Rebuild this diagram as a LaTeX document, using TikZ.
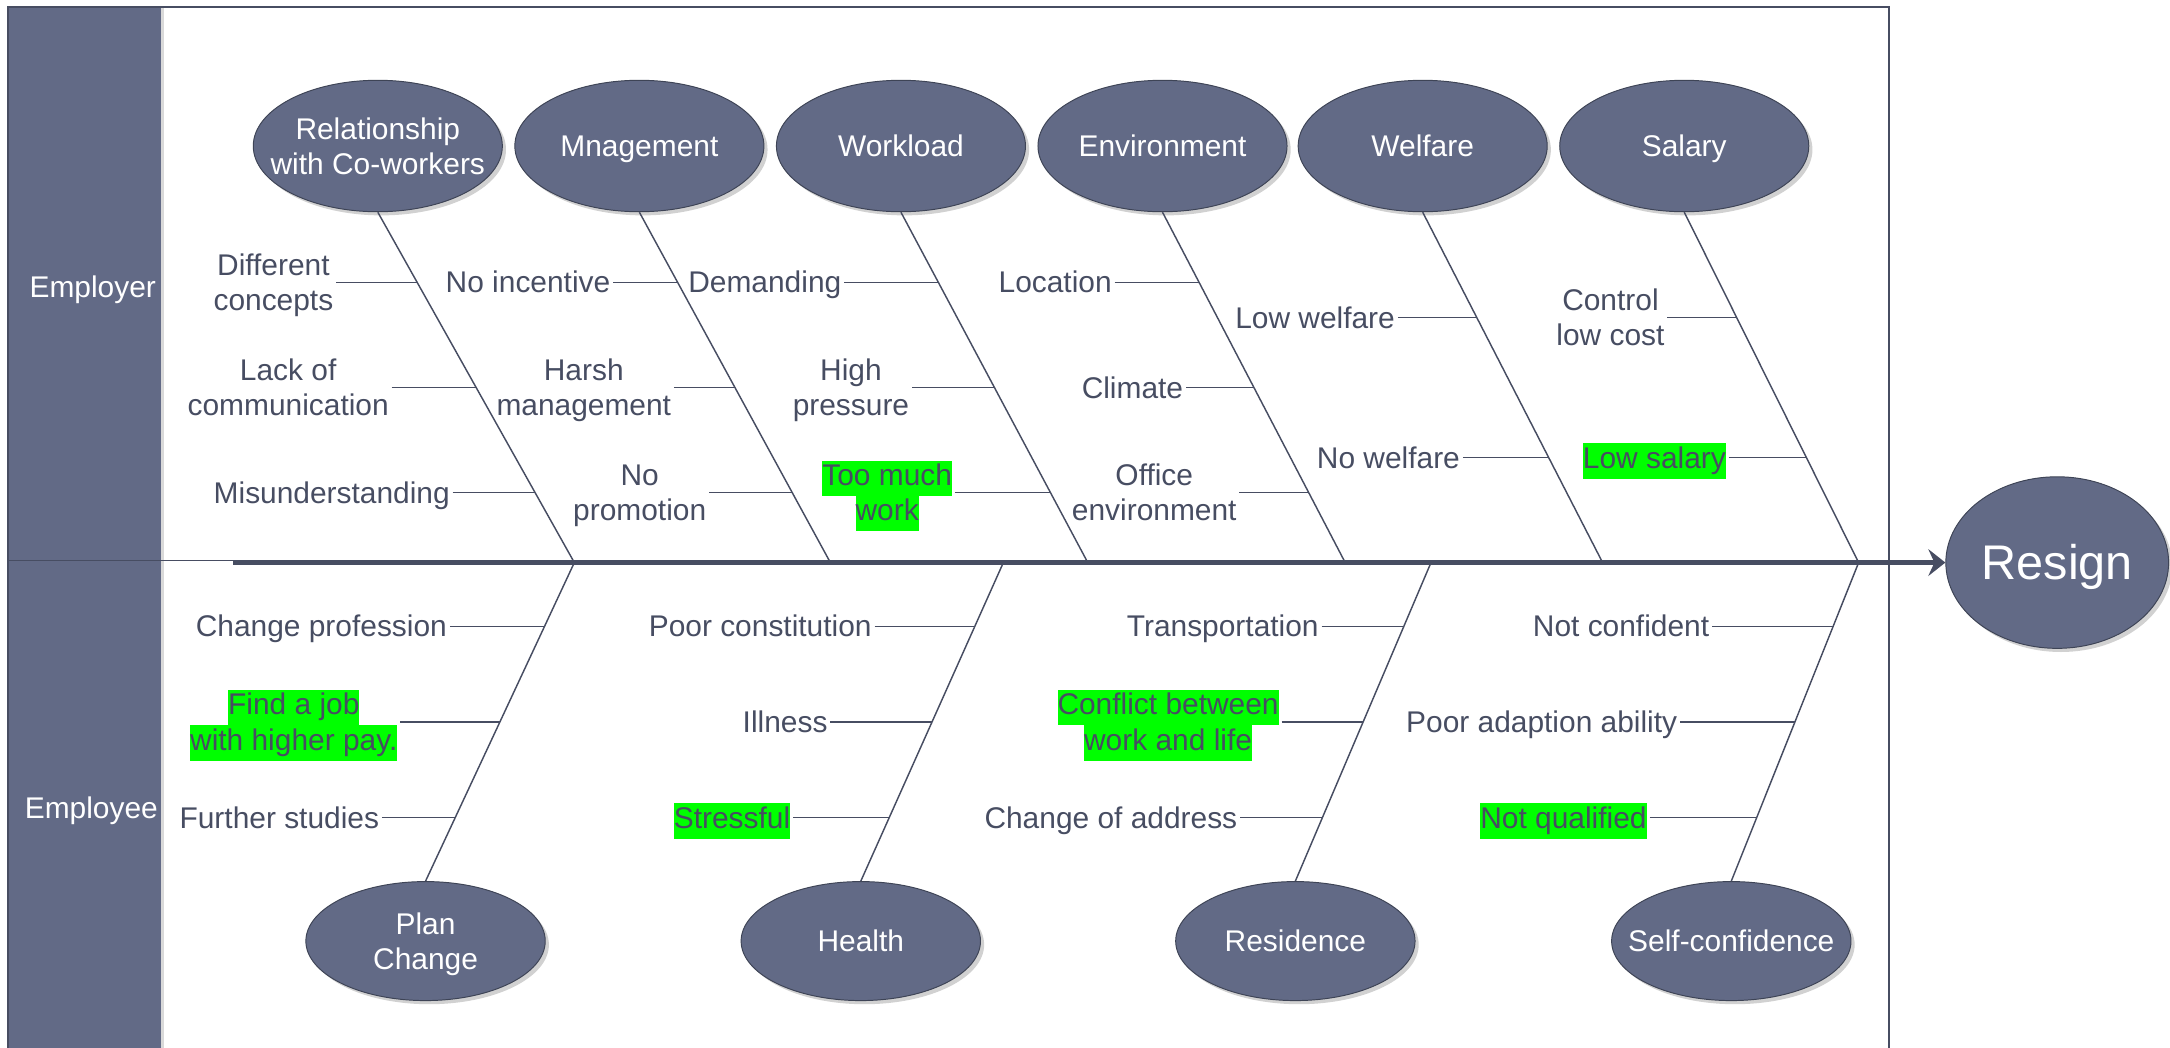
\documentclass[tikz,border=0pt]{standalone}
\usepackage{fontspec}
\setmainfont{Liberation Sans}
\usetikzlibrary{positioning,calc,shapes.geometric,arrows.meta,shadows}

\definecolor{slate}{HTML}{626A86}
\definecolor{ink}{HTML}{474D62}
\definecolor{rim}{HTML}{3E4456}
\definecolor{hlgreen}{HTML}{00FF00}
\newcommand{\hlt}[1]{{\setlength{\fboxsep}{0pt}\colorbox{hlgreen}{\strut #1}}}
\newcommand{\capstrut}{\rule[-0.35em]{0pt}{1.416em}}
\newcommand{\twoline}[2]{\capstrut #1\\#2\strut}

\begin{document}
\begin{tikzpicture}[x=0.02cm, y=-0.02cm,
    e/.style={ellipse, draw=rim, fill=slate, text=white, align=center, inner sep=0pt, minimum width=3.6cm, minimum height=1.9cm, font=\fontsize{12.3}{14.5}\selectfont, execute at begin node=\capstrut, drop shadow={shadow xshift=1.5pt, shadow yshift=-1.5pt, fill=black!18, opacity=1}},
    eb/.style={e, minimum width=3.46cm, minimum height=1.72cm},
    lbl/.style={text=ink, align=center, inner sep=1pt, font=\fontsize{12.3}{14.5}\selectfont, execute at begin node=\capstrut},
    b/.style={draw=ink, line width=0.6pt},
    lane/.style={text=white, font=\fontsize{12.3}{14.5}\selectfont, execute at begin node=\capstrut}]
    \useasboundingbox (0,0) rectangle (1568,757);
    \clip (0,0) rectangle (1568,757);

    % lanes and frame
    \fill[slate] (6,5) rectangle (116,757);
    \draw[black!15, line width=1pt] (117.5,5) -- (117.5,757);
    \draw[ink, line width=0.7pt] (6,757) -- (6,5) -- (1365,5) -- (1365,757);
    \draw[ink, line width=0.7pt] (6,405) -- (1365,405);
    \node[lane] (er) at (67,207) {Employer};
    \node[lane] (ee) at (66,584) {Employee};

    % head and spine
    \node[e, minimum width=3.22cm, minimum height=2.48cm, font=\fontsize{20}{24}\selectfont] (out) at (1486.5,406.5) {Resign};
    \coordinate (tail) at (168,406.5);
    \draw[ink, line width=2.2pt, -{Stealth[length=7pt, width=11pt, inset=2.5pt]}] (tail) -- (out.west);

    \coordinate (sp1) at (415,406.5);
    \coordinate (sp2) at (600,406.5);
    \coordinate (sp3) at (786,406.5);
    \coordinate (sp4) at (972,406.5);
    \coordinate (sp5) at (1158,406.5);
    \coordinate (sp6) at (1343,406.5);
    \coordinate (sq2) at (725,406.5);
    \coordinate (sq3) at (1034,406.5);

    % employer causes
    \node[e, inner xsep=-8pt] (rel) at (273,105.5) {\twoline{Relationship}{with Co-workers}};
    \node[e] (mng) at (462,105.5) {Mnagement};
    \node[e] (wl) at (651,105.5) {Workload};
    \node[e] (env) at (840,105.5) {Environment};
    \node[e] (wf) at (1028,105.5) {Welfare};
    \node[e] (sal) at (1217,105.5) {Salary};

    \draw[b] (rel.south) -- (sp1);
    \draw[b] (mng.south) -- (sp2);
    \draw[b] (wl.south) -- (sp3);
    \draw[b] (env.south) -- (sp4);
    \draw[b] (wf.south) -- (sp5);
    \draw[b] (sal.south) -- (sp6);

    \coordinate (rel1b) at ($(rel.south)!.2!(sp1)$);
    \node[lbl, left=1.17cm of rel1b] (rel1) {\twoline{Different}{concepts}};
    \coordinate (rel2b) at ($(rel.south)!.5!(sp1)$);
    \node[lbl, left=1.22cm of rel2b] (rel2) {\twoline{Lack of}{communication}};
    \coordinate (rel3b) at ($(rel.south)!.8!(sp1)$);
    \node[lbl, left=1.19cm of rel3b] (rel3) {Misunderstanding};

    \coordinate (mng1b) at ($(mng.south)!.2!(sp2)$);
    \node[lbl, left=0.93cm of mng1b] (mng1) {No incentive};
    \coordinate (mng2b) at ($(mng.south)!.5!(sp2)$);
    \node[lbl, left=0.88cm of mng2b] (mng2) {\twoline{Harsh}{management}};
    \coordinate (mng3b) at ($(mng.south)!.8!(sp2)$);
    \node[lbl, left=1.2cm of mng3b] (mng3) {\twoline{No}{promotion}};

    \coordinate (wl1b) at ($(wl.south)!.2!(sp3)$);
    \node[lbl, left=1.36cm of wl1b] (wl1) {Demanding};
    \coordinate (wl2b) at ($(wl.south)!.5!(sp3)$);
    \node[lbl, left=1.19cm of wl2b] (wl2) {\twoline{High}{pressure}};
    \coordinate (wl3b) at ($(wl.south)!.8!(sp3)$);
    \node[lbl, left=1.38cm of wl3b] (wl3) {\twoline{\hlt{Too much}}{\hlt{work}}};

    \coordinate (env1b) at ($(env.south)!.2!(sp4)$);
    \node[lbl, left=1.22cm of env1b] (env1) {Location};
    \coordinate (env2b) at ($(env.south)!.5!(sp4)$);
    \node[lbl, left=0.98cm of env2b] (env2) {Climate};
    \coordinate (env3b) at ($(env.south)!.8!(sp4)$);
    \node[lbl, left=1.0cm of env3b] (env3) {\twoline{Office}{environment}};

    \coordinate (wf1b) at ($(wf.south)!.3!(sp5)$);
    \node[lbl, left=1.14cm of wf1b] (wf1) {Low welfare};
    \coordinate (wf2b) at ($(wf.south)!.7!(sp5)$);
    \node[lbl, left=1.24cm of wf2b] (wf2) {No welfare};

    \coordinate (sal1b) at ($(sal.south)!.3!(sp6)$);
    \node[lbl, left=1.0cm of sal1b] (sal1) {\twoline{Control}{low cost}};
    \coordinate (sal2b) at ($(sal.south)!.7!(sp6)$);
    \node[lbl, left=1.12cm of sal2b] (sal2) {\hlt{Low salary}};

    \draw[b] (rel1) -- (rel1b);
    \draw[b] (rel2) -- (rel2b);
    \draw[b] (rel3) -- (rel3b);
    \draw[b] (mng1) -- (mng1b);
    \draw[b] (mng2) -- (mng2b);
    \draw[b] (mng3) -- (mng3b);
    \draw[b] (wl1) -- (wl1b);
    \draw[b] (wl2) -- (wl2b);
    \draw[b] (wl3) -- (wl3b);
    \draw[b] (env1) -- (env1b);
    \draw[b] (env2) -- (env2b);
    \draw[b] (env3) -- (env3b);
    \draw[b] (wf1) -- (wf1b);
    \draw[b] (wf2) -- (wf2b);
    \draw[b] (sal1) -- (sal1b);
    \draw[b] (sal2) -- (sal2b);

    % employee causes
    \node[eb] (plan) at (307.5,680) {\twoline{Plan}{Change}};
    \node[eb] (hlth) at (622,680) {Health};
    \node[eb] (res) at (936,680) {Residence};
    \node[eb, inner xsep=-8pt] (conf) at (1251,680) {Self-confidence};

    \draw[b] (sp1) -- (plan.north);
    \draw[b] (sq2) -- (hlth.north);
    \draw[b] (sq3) -- (res.north);
    \draw[b] (sp6) -- (conf.north);

    \coordinate (plan1b) at ($(sp1)!.2!(plan.north)$);
    \node[lbl, left=1.37cm of plan1b] (plan1) {Change profession};
    \coordinate (plan2b) at ($(sp1)!.5!(plan.north)$);
    \node[lbl, left=1.44cm of plan2b] (plan2) {\twoline{\hlt{Find a job}}{\hlt{with higher pay.}}};
    \coordinate (plan3b) at ($(sp1)!.8!(plan.north)$);
    \node[lbl, left=1.06cm of plan3b] (plan3) {Further studies};

    \coordinate (hlth1b) at ($(sq2)!.2!(hlth.north)$);
    \node[lbl, left=1.45cm of hlth1b] (hlth1) {Poor constitution};
    \coordinate (hlth2b) at ($(sq2)!.5!(hlth.north)$);
    \node[lbl, left=1.47cm of hlth2b] (hlth2) {Illness};
    \coordinate (hlth3b) at ($(sq2)!.8!(hlth.north)$);
    \node[lbl, left=1.39cm of hlth3b] (hlth3) {\hlt{Stressful}};

    \coordinate (res1b) at ($(sq3)!.2!(res.north)$);
    \node[lbl, left=1.19cm of res1b] (res1) {Transportation};
    \coordinate (res2b) at ($(sq3)!.5!(res.north)$);
    \node[lbl, left=1.18cm of res2b] (res2) {\twoline{\hlt{Conflict between}}{\hlt{work and life}}};
    \coordinate (res3b) at ($(sq3)!.8!(res.north)$);
    \node[lbl, left=1.19cm of res3b] (res3) {Change of address};

    \coordinate (conf1b) at ($(sp6)!.2!(conf.north)$);
    \node[lbl, left=1.75cm of conf1b] (conf1) {Not confident};
    \coordinate (conf2b) at ($(sp6)!.5!(conf.north)$);
    \node[lbl, left=1.66cm of conf2b] (conf2) {Poor adaption ability};
    \coordinate (conf3b) at ($(sp6)!.8!(conf.north)$);
    \node[lbl, left=1.55cm of conf3b] (conf3) {\hlt{Not qualified}};

    \draw[b] (plan1) -- (plan1b);
    \draw[b] (plan2) -- (plan2b);
    \draw[b] (plan3) -- (plan3b);
    \draw[b] (hlth1) -- (hlth1b);
    \draw[b] (hlth2) -- (hlth2b);
    \draw[b] (hlth3) -- (hlth3b);
    \draw[b] (res1) -- (res1b);
    \draw[b] (res2) -- (res2b);
    \draw[b] (res3) -- (res3b);
    \draw[b] (conf1) -- (conf1b);
    \draw[b] (conf2) -- (conf2b);
    \draw[b] (conf3) -- (conf3b);
\end{tikzpicture}
\end{document}
